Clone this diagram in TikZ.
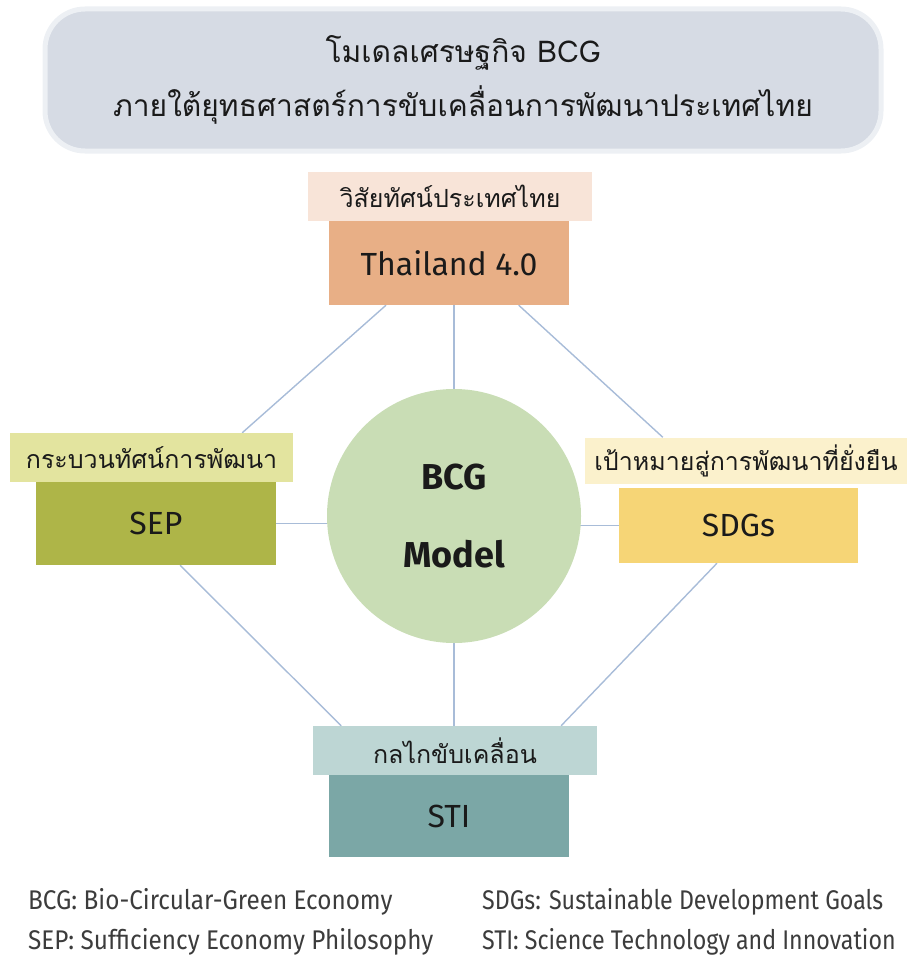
\documentclass[tikz,border=0pt]{standalone}
\usepackage{fontspec}
\setmainfont{Fira Sans}
\newfontfamily\thaifont[Script=Thai]{Loma}
\newfontfamily\legendfont[FakeStretch=0.9]{Fira Sans}
\newfontfamily\legendfontb[FakeStretch=0.86]{Fira Sans}
\usetikzlibrary{calc,backgrounds}
\definecolor{titlefill}{HTML}{D6DBE4}
\definecolor{titleedge}{HTML}{EDF0F4}
\definecolor{thlab}{HTML}{F8E4D8}
\definecolor{thbox}{HTML}{E8AF86}
\definecolor{seplab}{HTML}{E3E49F}
\definecolor{sepbox}{HTML}{AEB548}
\definecolor{sdglab}{HTML}{FBF1CC}
\definecolor{sdgbox}{HTML}{F6D576}
\definecolor{stilab}{HTML}{BDD6D4}
\definecolor{stibox}{HTML}{7BA7A6}
\definecolor{circfill}{HTML}{C9DDB5}
\definecolor{connc}{HTML}{A8BCD8}
\definecolor{txt}{HTML}{1A1A1A}
\tikzset{
  lab/.style={rectangle, inner sep=0pt, minimum height=49pt, text=txt, font=\thaifont\fontsize{25}{30}\selectfont},
  mainbox/.style={rectangle, inner sep=0pt, minimum width=240pt, text=txt, font=\fontsize{32}{38}\selectfont},
  conn/.style={draw=connc, line width=1.4pt},
  legend/.style={anchor=west, inner sep=0pt, text=txt!85, font=\legendfont\fontsize{27}{30}\selectfont},
  legendr/.style={legend, font=\legendfontb\fontsize{27}{30}\selectfont}
}
\begin{document}
\begin{tikzpicture}[x=1pt,y=-1pt]
\useasboundingbox (0,0) rectangle (907,955);
% title
\node[rectangle, rounded corners=40pt, fill=titlefill, draw=titleedge, line width=5pt,
  minimum width=836pt, minimum height=142pt, inner sep=0pt, text=txt, align=center,
  font=\thaifont\fontsize{30}{54}\selectfont] (title) at (463,80)
  {โมเดลเศรษฐกิจ BCG\\ภายใต้ยุทธศาสตร์การขับเคลื่อนการพัฒนาประเทศไทย};
% top
\node[lab, fill=thlab, minimum width=284pt] (thlabel) at (450,196.5) {วิสัยทัศน์ประเทศไทย};
\node[mainbox, fill=thbox, minimum height=84pt] (thai) at (449,263) {Thailand 4.0};
% left
\node[lab, fill=seplab, minimum width=283pt] (seplabel) at (151.5,457.5) {กระบวนทัศน์การพัฒนา};
\node[mainbox, fill=sepbox, minimum height=83pt] (sep) at (156,523.5) {SEP};
% right
\node[lab, fill=sdglab, minimum width=322pt, minimum height=46pt] (sdglabel) at (746,460.5) {เป้าหมายสู่การพัฒนาที่ยั่งยืน};
\node[mainbox, fill=sdgbox, minimum width=239pt, minimum height=75pt] (sdg) at (738.5,525.5) {SDGs};
% bottom
\node[lab, fill=stilab, minimum width=284pt] (stilabel) at (455,750.5) {กลไกขับเคลื่อน};
\node[mainbox, fill=stibox, minimum height=82pt] (sti) at (449,816) {STI};
% centre
\node[circle, fill=circfill, minimum size=254pt, inner sep=0pt, align=center, text=txt,
  font=\bfseries\fontsize{36}{78}\selectfont] (circ) at (454,516) {BCG\\Model};
% connectors
\begin{scope}[on background layer]
\draw[conn] ($(thai.south west)!0.238!(thai.south east)$) -- ($(seplabel.north west)!0.82!(seplabel.north east)$);
\draw[conn] ($(thai.south west)!0.79!(thai.south east)$) -- ($(sdglabel.north west)!0.242!(sdglabel.north east)$);
\draw[conn] ($(sep.south west)!0.6!(sep.south east)$) -- ($(stilabel.north west)!0.1!(stilabel.north east)$);
\draw[conn] ($(sdg.south west)!0.41!(sdg.south east)$) -- ($(stilabel.north west)!0.873!(stilabel.north east)$);
\draw[conn] (circ.center) -- (circ.center |- thai.south);
\draw[conn] (circ.center) -- (circ.center |- stilabel.north);
\draw[conn] (sep.east) -- (sep.east -| circ.center);
\draw[conn] (sdg.west) -- (sdg.west -| circ.center);
\end{scope}
% legend
\node[legend] (l1) at (28,902) {BCG: Bio-Circular-Green Economy};
\node[legend] (l2) at (28,942) {SEP: Sufficiency Economy Philosophy};
\node[legendr] (l3) at (482,902) {SDGs: Sustainable Development Goals};
\node[legendr] (l4) at (482,942) {STI: Science Technology and Innovation};
\end{tikzpicture}
\end{document}
